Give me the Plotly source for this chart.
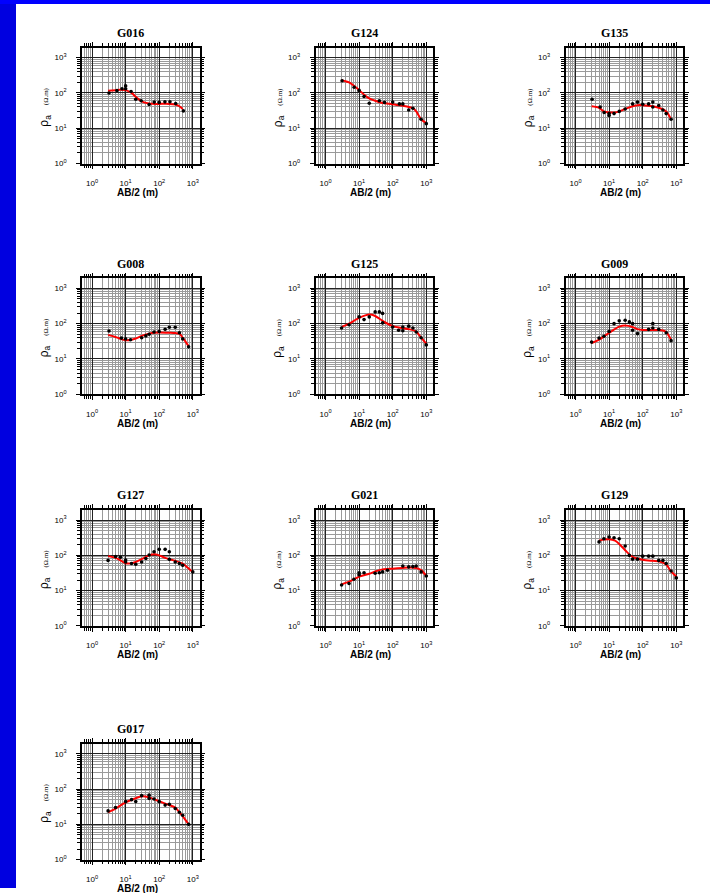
import plotly.graph_objects as go

# ---------------- data ----------------
names = ["G016", "G124", "G135", "G008", "G125", "G009", "G127", "G021", "G129", "G017"]

g016_ab = [3.2, 5.5, 7.8, 10, 10, 14.5, 20, 29, 50, 71, 100, 148, 209, 309, 525]
g016_rho = [100, 117, 132, 158, 132, 110, 66, 60, 47, 55, 54, 56, 56, 50, 31]
g016_fit_ab = [3, 5, 7, 10, 15, 20, 30, 50, 70, 100, 200, 300, 400, 500]
g016_fit_rho = [115, 120, 123, 120, 100, 78, 58, 50, 49, 49, 49, 47, 42, 35]

g124_ab = [3.1, 7.1, 10, 14, 20, 40, 57, 100, 158, 200, 300, 400, 700, 1000]
g124_rho = [222, 145, 118, 79, 51, 60, 54, 55, 49, 49, 33, 37, 18, 13.5]
g124_fit_ab = [3, 5, 7, 10, 15, 20, 30, 50, 100, 200, 300, 400, 500, 700, 1000]
g124_fit_rho = [230, 200, 160, 120, 85, 70, 60, 52, 48, 43, 40, 37, 30, 18, 14]

g135_ab = [3.1, 5.4, 7.1, 10, 10, 14, 20, 30, 50, 70, 100, 150, 200, 200, 300, 400, 500, 700]
g135_rho = [66, 40, 28, 23, 26, 26, 30, 35, 49, 55, 48, 49, 55, 40, 44, 33, 26, 18]
g135_fit_ab = [3, 5, 7, 10, 15, 20, 30, 50, 70, 100, 200, 300, 500, 700]
g135_fit_rho = [42, 38, 30, 28, 28, 30, 35, 42, 45, 45, 42, 38, 30, 18]

g008_ab = [3.2, 7.5, 10, 14, 30, 40, 50, 70, 100, 150, 200, 300, 400, 500, 750]
g008_rho = [62, 39, 37, 35, 40, 45, 50, 58, 60, 69, 79, 79, 55, 37, 22]
g008_fit_ab = [3, 5, 7, 10, 15, 20, 30, 50, 70, 100, 200, 300, 400, 500, 750]
g008_fit_rho = [48, 42, 37, 34, 35, 38, 45, 52, 55, 56, 55, 54, 52, 40, 23]

g125_ab = [3, 5, 10, 14, 20, 30, 40, 50, 50, 100, 150, 200, 200, 300, 400, 500, 700, 1000]
g125_rho = [75, 93, 155, 130, 155, 215, 215, 195, 105, 80, 65, 63, 80, 85, 75, 58, 40, 25]
g125_fit_ab = [3, 5, 10, 20, 30, 50, 100, 200, 300, 500, 700, 1000]
g125_fit_rho = [80, 100, 145, 180, 165, 120, 85, 75, 70, 60, 40, 27]

g009_ab = [3, 5, 7, 10, 14, 20, 30, 40, 50, 50, 70, 150, 200, 200, 300, 500, 700]
g009_rho = [30, 39, 44, 60, 100, 120, 125, 112, 100, 65, 52, 69, 100, 75, 69, 55, 33]
g009_fit_ab = [3, 5, 10, 20, 30, 50, 70, 100, 200, 300, 400, 500, 700]
g009_fit_rho = [28, 35, 55, 82, 88, 80, 70, 66, 66, 66, 64, 58, 35]

g127_ab = [3, 5, 7, 10, 10, 15, 20, 30, 40, 50, 70, 100, 150, 200, 200, 300, 400, 500, 1000]
g127_rho = [72, 92, 88, 74, 65, 59, 56, 65, 81, 102, 126, 148, 148, 126, 77, 65, 59, 52, 34]
g127_fit_ab = [3, 5, 7, 10, 15, 20, 30, 50, 70, 100, 150, 200, 300, 500, 700, 1000]
g127_fit_rho = [95, 85, 72, 60, 60, 65, 78, 100, 108, 100, 85, 78, 70, 58, 45, 33]

g021_ab = [3, 5, 7, 10, 10, 14, 30, 40, 50, 70, 200, 300, 400, 500, 700, 1000]
g021_rho = [14.5, 16, 21, 32, 28, 32, 31, 32, 34, 38, 50, 47, 48, 50, 34, 26]
g021_fit_ab = [3, 5, 7, 10, 20, 30, 50, 100, 200, 300, 500, 700, 1000]
g021_fit_rho = [15, 18, 21, 25, 30, 35, 40, 42, 44, 45, 44, 38, 26]

g129_ab = [5, 7, 10, 14, 20, 30, 40, 50, 70, 100, 150, 200, 300, 400, 500, 700, 1000]
g129_rho = [240, 295, 330, 316, 295, 183, 100, 78, 78, 95, 95, 95, 72, 72, 59, 36, 23]
g129_fit_ab = [5, 7, 10, 15, 20, 30, 50, 100, 200, 300, 500, 700, 1000]
g129_fit_rho = [260, 280, 285, 260, 210, 140, 90, 75, 70, 68, 55, 35, 25]

g017_ab = [3, 5, 10, 15, 20, 30, 50, 50, 70, 100, 150, 200, 300, 400, 500, 750]
g017_rho = [24, 30, 44, 50, 44, 65, 67, 54, 52, 44, 35, 37, 28, 22, 18, 10]
g017_fit_ab = [3, 5, 10, 20, 30, 50, 100, 200, 300, 400, 500, 750]
g017_fit_rho = [22, 28, 42, 55, 62, 58, 45, 35, 30, 22, 17, 10]

obs = [(g016_ab, g016_rho), (g124_ab, g124_rho), (g135_ab, g135_rho),
       (g008_ab, g008_rho), (g125_ab, g125_rho), (g009_ab, g009_rho),
       (g127_ab, g127_rho), (g021_ab, g021_rho), (g129_ab, g129_rho),
       (g017_ab, g017_rho)]
fits = [(g016_fit_ab, g016_fit_rho), (g124_fit_ab, g124_fit_rho), (g135_fit_ab, g135_fit_rho),
        (g008_fit_ab, g008_fit_rho), (g125_fit_ab, g125_fit_rho), (g009_fit_ab, g009_fit_rho),
        (g127_fit_ab, g127_fit_rho), (g021_fit_ab, g021_fit_rho), (g129_fit_ab, g129_fit_rho),
        (g017_fit_ab, g017_fit_rho)]

tick_vals = [1, 10, 100, 1000]
tick_text = ["10<sup>0</sup>", "10<sup>1</sup>", "10<sup>2</sup>", "10<sup>3</sup>"]
decades = [0.1, 1, 10, 100, 1000]
minor_vals = [k * d for d in decades for k in range(2, 10)]

# ---------------- layout geometry (pixels) ----------------
W, H = 710, 893
col_left = [82, 315.5, 565.5]
row_top = [48, 280, 513, 748]
box_w, box_h = 117.5, 116.5


def px_x(p):
    return p / W


def px_y(p):
    return 1 - p / H


fig = go.Figure()
annotations = []

for i, name in enumerate(names):
    r, c = divmod(i, 3)
    x0, y0 = col_left[c], row_top[r]
    ax = "" if i == 0 else str(i + 1)
    xa, ya = "x" + ax, "y" + ax

    fig.add_trace(go.Scatter(x=fits[i][0], y=fits[i][1], mode="lines",
                             line=dict(color="#ff0000", width=2, shape="spline", smoothing=0.8),
                             xaxis=xa, yaxis=ya, showlegend=False, hoverinfo="skip"))
    fig.add_trace(go.Scatter(x=obs[i][0], y=obs[i][1], mode="markers",
                             marker=dict(color="black", size=3.6, symbol="circle"),
                             xaxis=xa, yaxis=ya, showlegend=False))

    common = dict(type="log", showline=True, linecolor="black", linewidth=1.5, mirror="allticks",
                  ticks="outside", ticklen=4, tickwidth=1, tickcolor="black",
                  showgrid=True, gridcolor="#222222", gridwidth=1,
                  tickmode="array", tickvals=tick_vals, ticktext=tick_text,
                  tickfont=dict(family="Liberation Sans, Arial", size=8, color="black"),
                  minor=dict(tickmode="array", tickvals=minor_vals,
                             ticks="outside", ticklen=3, tickcolor="black", tickwidth=0.8,
                             showgrid=True, gridcolor="#9a9a9a", gridwidth=1),
                  zeroline=False, fixedrange=True)
    fig.layout["xaxis" + ax] = dict(common, domain=[px_x(x0), px_x(x0 + box_w)],
                                    range=[-0.3, 3.2], anchor=ya, ticklabelstandoff=7)
    fig.layout["yaxis" + ax] = dict(common, domain=[px_y(y0 + box_h), px_y(y0)],
                                    range=[0, 3.28], anchor=xa, ticklabelstandoff=8)

    # title
    annotations.append(dict(text="<b>%s</b>" % name, x=px_x(x0 + box_w / 2 - 10), y=px_y(y0 - 15),
                            xref="paper", yref="paper", showarrow=False, xanchor="center",
                            yanchor="middle",
                            font=dict(family="Liberation Serif, Times New Roman", size=12, color="black")))
    # x axis title
    annotations.append(dict(text="<b>AB/2 (m)</b>", x=px_x(x0 + box_w / 2 - 3.5), y=px_y(y0 + box_h + 29),
                            xref="paper", yref="paper", showarrow=False, xanchor="center",
                            yanchor="middle",
                            font=dict(family="Liberation Sans, Arial", size=10, color="black")))
    # y axis title
    annotations.append(dict(text="ρ<sub>a</sub>   <span style='font-size:7px;font-family:Liberation Serif'>(Ω.m)</span>",
                            x=px_x(x0 - 37), y=px_y(y0 + box_h / 2 + 2),
                            xref="paper", yref="paper", showarrow=False, xanchor="center",
                            yanchor="middle", textangle=-90,
                            font=dict(family="Liberation Sans, Arial", size=12, color="black")))

fig.update_layout(
    width=W, height=H, margin=dict(l=0, r=0, t=0, b=0),
    paper_bgcolor="white", plot_bgcolor="white",
    annotations=annotations,
    shapes=[
        dict(type="rect", xref="paper", yref="paper", x0=0, x1=16 / W, y0=0, y1=1,
             fillcolor="#0000e0", line=dict(width=0), layer="below"),
        dict(type="rect", xref="paper", yref="paper", x0=0, x1=1, y0=1 - 4 / H, y1=1,
             fillcolor="#0000ff", line=dict(width=0), layer="below"),
    ],
)

fig.write_html("out.html")
